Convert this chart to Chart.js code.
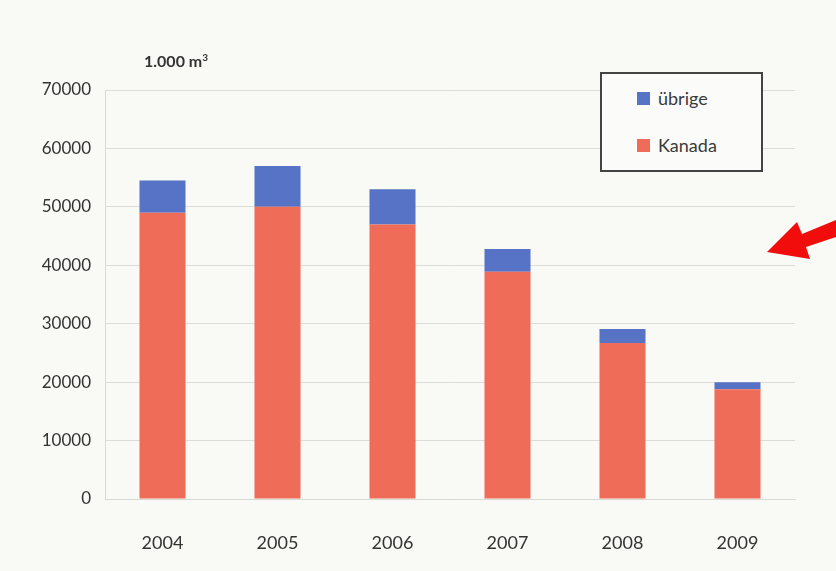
<!DOCTYPE html>
<html>
<head>
<meta charset="utf-8">
<script src="https://cdn.jsdelivr.net/npm/chart.js@4"></script>
<style>
    body { margin: 0; background: #f9f9f6; }
    #wrap { position: relative; width: 836px; height: 571px; }
    #unit {
        position: absolute; left: 144px; top: 51px;
        font: bold 16px Lato, sans-serif; color: #333;
    }
    #legend {
        position: absolute; left: 600px; top: 72px; width: 163px; height: 100px;
        border: 2px solid #444; box-sizing: border-box; background: #fbfbf9;
        font: 18px Lato, sans-serif; color: #3a3a3a;
    }
    .item { position: absolute; left: 35px; display: flex; align-items: center; }
    .item span { display: inline-block; width: 13px; height: 13px; margin-right: 8px; }
</style>
</head>
<body>
<div id="wrap">
    <canvas id="chart" width="836" height="571"></canvas>
    <div id="unit">1.000 m<sup style="font-size:10px">3</sup></div>
    <div id="legend"></div>
</div>
<script>
const years = ['2004', '2005', '2006', '2007', '2008', '2009'];
const kanada = [49000, 50000, 47000, 38900, 26700, 18800];
const uebrige = [5500, 7000, 6000, 3900, 2400, 1200];

const kanadaColor = '#ef6d58';
const uebrigeColor = '#5673c6';

// legend box (übrige listed first, like the original)
const legendItems = [['übrige', uebrigeColor, 13], ['Kanada', kanadaColor, 60]];
const legend = document.getElementById('legend');
legendItems.forEach(function(it) {
    const d = document.createElement('div');
    d.className = 'item';
    d.style.top = it[2] + 'px';
    d.innerHTML = '<span style="background:' + it[1] + '"></span>' + it[0];
    legend.appendChild(d);
});

// the red arrow drawn on the scan
const arrowPlugin = {
    id: 'arrow',
    afterDraw(chart) {
        const c = chart.ctx;
        c.save();
        c.fillStyle = '#f20d0d';
        c.beginPath();
        c.moveTo(767, 252);
        c.lineTo(797, 222);
        c.lineTo(802, 234);
        c.lineTo(836, 220);
        c.lineTo(836, 237);
        c.lineTo(806, 247);
        c.lineTo(810, 259);
        c.closePath();
        c.fill();
        c.restore();
    }
};

new Chart(document.getElementById('chart'), {
    type: 'bar',
    data: {
        labels: years,
        datasets: [
            { label: 'Kanada', data: kanada, backgroundColor: kanadaColor },
            { label: 'übrige', data: uebrige, backgroundColor: uebrigeColor }
        ]
    },
    options: {
        responsive: false,
        animation: false,
        datasets: { bar: { categoryPercentage: 1, barPercentage: 0.4 } },
        layout: { padding: { top: 90, right: 41, bottom: 0, left: 0 } },
        plugins: { legend: { display: false }, tooltip: { enabled: false } },
        scales: {
            x: {
                stacked: true,
                grid: { display: false },
                border: { color: '#d8d8d4' },
                ticks: { color: '#333', padding: 25, font: { family: 'Lato', size: 18 } },
                afterFit(s) { s.height = 72; }
            },
            y: {
                stacked: true,
                min: 0, max: 70000,
                ticks: {
                    stepSize: 10000, color: '#333', padding: 14,
                    font: { family: 'Lato', size: 17 },
                    callback: v => String(v)
                },
                grid: { color: '#dcdcd8', drawTicks: false },
                border: { color: '#d8d8d4' },
                afterFit(s) { s.width = 105; }
            }
        }
    },
    plugins: [arrowPlugin]
});
</script>
</body>
</html>
